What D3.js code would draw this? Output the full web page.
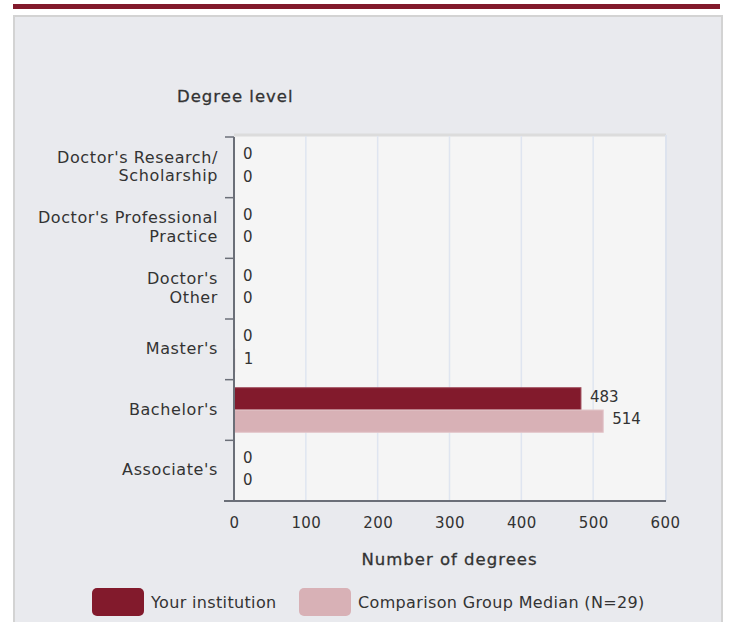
<!DOCTYPE html>
<html>
<head>
<meta charset="utf-8">
<script src="https://cdn.jsdelivr.net/npm/d3@7"></script>
<style>
  body { margin: 0; background: #fff; }
  svg text { font-family: "DejaVu Sans", "Liberation Sans", sans-serif; fill: #333; }
</style>
</head>
<body>
<svg id="chart" width="734" height="622"></svg>
<script>
// data
const categories = [
  ["Doctor's Research/", "Scholarship"],
  ["Doctor's Professional", "Practice"],
  ["Doctor's", "Other"],
  ["Master's"],
  ["Bachelor's"],
  ["Associate's"]
];
const seriesNames = ["Your institution", "Comparison Group Median (N=29)"];
const yourValues = [0, 0, 0, 0, 483, 0];
const compValues = [0, 0, 0, 1, 514, 0];
const xTicks = [0, 100, 200, 300, 400, 500, 600];
const colors = ["#821a2c", "#d8b1b6"];

const svg = d3.select("#chart");

// top maroon rule
svg.append("rect").attr("x", 13).attr("y", 4).attr("width", 707).attr("height", 5)
  .attr("fill", "#821a2c");

// panel
svg.append("rect").attr("x", 14).attr("y", 16).attr("width", 708).attr("height", 620)
  .attr("fill", "#e9eaee").attr("stroke", "#d3d3d3").attr("stroke-width", 2);

const m = {left: 234, right: 665, top: 137, bottom: 501};

const x = d3.scaleLinear().domain([0, 600]).range([m.left, m.right]);
const keys = categories.map((c, i) => i);
const y = d3.scaleBand().domain(keys).range([m.top, m.bottom]).padding(0);
const ySub = d3.scaleBand().domain([0, 1]).range([0, y.bandwidth()])
  .paddingInner(0).paddingOuter(0.36);

// plot background
svg.append("rect").attr("x", m.left).attr("y", m.top - 2)
  .attr("width", m.right - m.left).attr("height", m.bottom - m.top + 2)
  .attr("fill", "#f5f5f5");
svg.append("line").attr("x1", m.left).attr("x2", m.right + 1)
  .attr("y1", m.top - 2).attr("y2", m.top - 2)
  .attr("stroke", "#dcdcdc").attr("stroke-width", 3);
svg.append("line").attr("x1", m.right + 1).attr("x2", m.right + 1)
  .attr("y1", m.top - 2).attr("y2", m.bottom)
  .attr("stroke", "#dde3ee").attr("stroke-width", 2);

// grid
svg.append("g").selectAll("line").data(xTicks.slice(1, -1)).join("line")
  .attr("x1", d => x(d)).attr("x2", d => x(d))
  .attr("y1", m.top - 1).attr("y2", m.bottom)
  .attr("stroke", "#dfe5f0").attr("stroke-width", 1.5);

// bars
const rows = keys.map(i => ({i, vals: [yourValues[i], compValues[i]]}));
const grp = svg.append("g").selectAll("g").data(rows).join("g")
  .attr("transform", d => `translate(0,${y(d.i)})`);

grp.selectAll("rect").data(d => d.vals).join("rect")
  .attr("x", x(0))
  .attr("y", (d, j) => ySub(j))
  .attr("width", d => x(d) - x(0))
  .attr("height", ySub.bandwidth())
  .attr("fill", (d, j) => colors[j])
  .attr("stroke", (d, j) => j === 0 ? "#a0505e" : "#e3c6ca")
  .attr("stroke-width", d => d > 0 ? 1 : 0);

grp.selectAll("text").data(d => d.vals).join("text")
  .attr("x", d => x(d) + 9)
  .attr("y", (d, j) => ySub(j) + ySub.bandwidth() / 2 - 2)
  .attr("dy", "0.35em")
  .attr("font-size", 15)
  .text(d => d);

// y axis
const yAxis = svg.append("g");
yAxis.append("line").attr("x1", m.left).attr("x2", m.left)
  .attr("y1", m.top).attr("y2", m.bottom)
  .attr("stroke", "#6b6f78").attr("stroke-width", 2);
yAxis.selectAll("line.tick").data(d3.range(keys.length + 1)).join("line")
  .attr("class", "tick")
  .attr("x1", m.left - 9).attr("x2", m.left)
  .attr("y1", d => m.top + d * y.step()).attr("y2", d => m.top + d * y.step())
  .attr("stroke", "#6b6f78").attr("stroke-width", 1.5);

yAxis.selectAll("text.cat").data(keys).join("text")
  .attr("class", "cat")
  .attr("text-anchor", "end")
  .attr("font-size", 16)
  .attr("letter-spacing", 0.6)
  .each(function (i) {
    const lines = categories[i];
    const lh = 18.5;
    const cy = y(i) + y.bandwidth() / 2 - 1;
    const t = d3.select(this);
    lines.forEach((s, k) => {
      t.append("tspan").attr("x", 218)
        .attr("y", cy + (k - (lines.length - 1) / 2) * lh)
        .attr("dy", "0.35em").text(s);
    });
  });

// x axis
const xAxis = svg.append("g").attr("transform", `translate(0,${m.bottom})`)
  .call(d3.axisBottom(x).tickValues(xTicks).tickSize(0).tickPadding(16));
xAxis.select(".domain").remove();
xAxis.append("line").attr("x1", m.left - 10).attr("x2", m.right + 1)
  .attr("stroke", "#6b6f78").attr("stroke-width", 2);
xAxis.selectAll(".tick text").attr("font-size", 15).attr("fill", "#333")
  .attr("letter-spacing", 0.4)
  .style("font-family", "'DejaVu Sans', 'Liberation Sans', sans-serif");

// titles
svg.append("text").attr("x", 177).attr("y", 96).attr("dy", "0.35em")
  .attr("font-size", 16.5).attr("letter-spacing", 1)
  .attr("stroke", "#333").attr("stroke-width", 0.3)
  .text("Degree level");
svg.append("text").attr("x", (m.left + m.right) / 2).attr("y", 559).attr("dy", "0.35em")
  .attr("text-anchor", "middle")
  .attr("font-size", 16.5).attr("letter-spacing", 1)
  .attr("stroke", "#333").attr("stroke-width", 0.3)
  .text("Number of degrees");

// legend
const legendX = [92, 299];
const legend = svg.append("g").selectAll("g").data(seriesNames).join("g")
  .attr("transform", (d, i) => `translate(${legendX[i]},588)`);
legend.append("rect").attr("width", 52).attr("height", 28).attr("rx", 5)
  .attr("fill", (d, i) => colors[i]);
legend.append("text").attr("x", 59).attr("y", 14).attr("dy", "0.35em")
  .attr("font-size", 16).attr("letter-spacing", 0.35).text(d => d);
</script>
</body>
</html>
